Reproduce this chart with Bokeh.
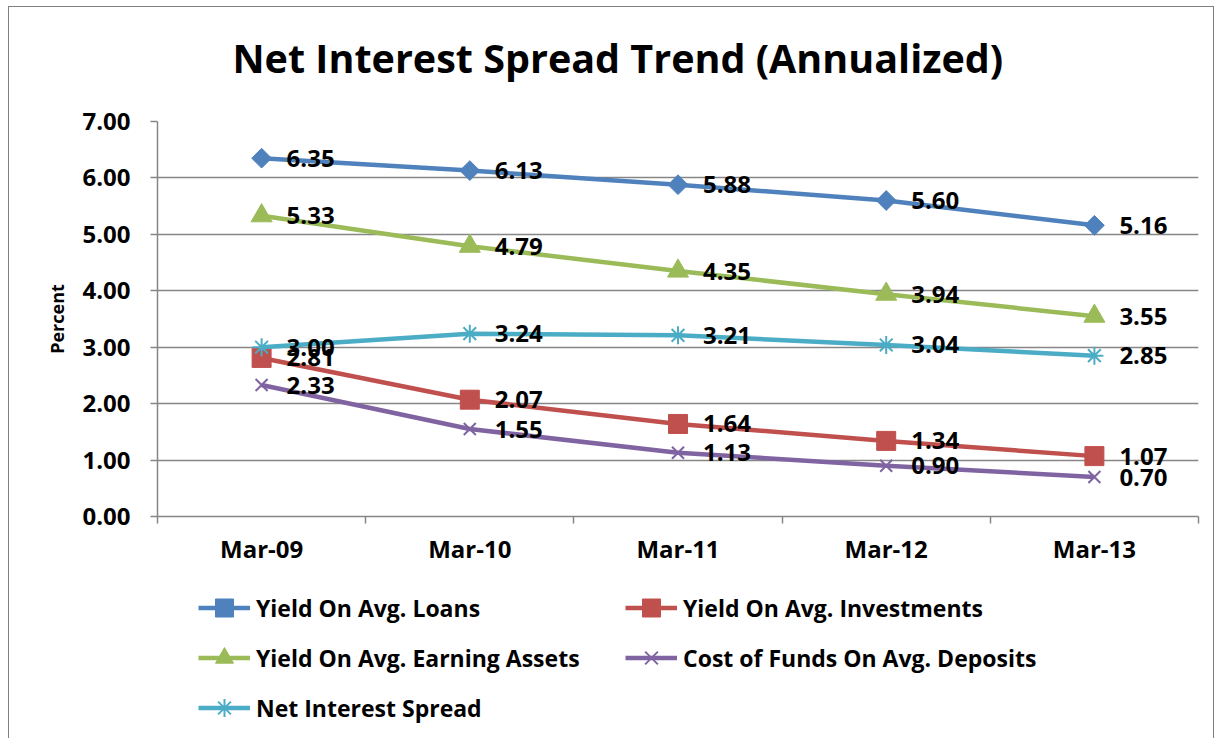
from math import pi
from bokeh.plotting import figure
from bokeh.layouts import column
from bokeh.models import (Range1d, FixedTicker, Legend, LegendItem, Title,
                          ColumnDataSource, NumeralTickFormatter)
from bokeh.embed import file_html
from bokeh.resources import INLINE
from bokeh.core.properties import value

categories = ["Mar-09", "Mar-10", "Mar-11", "Mar-12", "Mar-13"]
loans = [6.35, 6.13, 5.88, 5.60, 5.16]
investments = [2.81, 2.07, 1.64, 1.34, 1.07]
earning_assets = [5.33, 4.79, 4.35, 3.94, 3.55]
cost_of_funds = [2.33, 1.55, 1.13, 0.90, 0.70]
net_spread = [3.00, 3.24, 3.21, 3.04, 2.85]
y_ticks = [0, 1, 2, 3, 4, 5, 6, 7]

FONT = "Open Sans"
x_pos = [i + 0.5 for i in range(len(categories))]

p = figure(frame_width=1041, frame_height=395, x_range=Range1d(0, len(categories)),
           y_range=Range1d(0, 7), output_backend="svg", toolbar_location=None,
           min_border_left=148, min_border_right=15, min_border_top=114,
           min_border_bottom=60, outline_line_color=None)

p.title.text = "Net Interest Spread Trend (Annualized)"
p.title.text_font = FONT
p.title.text_font_style = "bold"
p.title.text_font_size = "39.5px"
p.title.text_color = "black"
p.title.align = "left"
p.title.offset = 75
p.title.standoff = 43
# spacer between title and plot area
p.add_layout(Title(text=" ", text_font_size="2px", standoff=11), "above")

# x axis
xax = p.xaxis[0]
xax.ticker = FixedTicker(ticks=x_pos, minor_ticks=list(range(len(categories) + 1)))
xax.major_label_overrides = {x: c for x, c in zip(x_pos, categories)}
xax.major_tick_line_color = None
xax.major_tick_out = 6
xax.major_tick_in = 0
xax.minor_tick_out = 7
xax.minor_tick_in = 0
xax.minor_tick_line_color = "#868686"
xax.minor_tick_line_width = 1.5
xax.axis_line_color = "#868686"
xax.axis_line_width = 1.5
xax.major_label_text_font = FONT
xax.major_label_text_font_style = "bold"
xax.major_label_text_font_size = "24px"
xax.major_label_text_color = "black"
xax.major_label_standoff = 8
p.xgrid.visible = False

# y axis
yax = p.yaxis[0]
yax.ticker = FixedTicker(ticks=y_ticks)
yax.formatter = NumeralTickFormatter(format="0.00")
yax.major_tick_out = 7
yax.major_tick_in = 0
yax.minor_tick_line_color = None
yax.major_tick_line_color = "#868686"
yax.major_tick_line_width = 1.5
yax.axis_line_color = "#868686"
yax.axis_line_width = 1.5
yax.major_label_text_font = FONT
yax.major_label_text_font_style = "bold"
yax.major_label_text_font_size = "24px"
yax.major_label_text_color = "black"
yax.major_label_standoff = 20
yax.axis_label = "Percent"
yax.axis_label_text_font = FONT
yax.axis_label_text_font_style = "bold"
yax.axis_label_text_font_size = "18px"
yax.axis_label_text_color = "black"
yax.axis_label_standoff = 10
p.ygrid.ticker = FixedTicker(ticks=y_ticks)
p.ygrid.grid_line_color = "#868686"
p.ygrid.grid_line_width = 1.5

series = [
    ("Yield On Avg. Loans", loans, "#4F81BD", "square", 14, pi / 4),
    ("Yield On Avg. Investments", investments, "#C0504D", "square", 19, 0),
    ("Yield On Avg. Earning Assets", earning_assets, "#9BBB59", "triangle", 21, 0),
    ("Cost of Funds On Avg. Deposits", cost_of_funds, "#8064A2", "x", 17, 0),
    ("Net Interest Spread", net_spread, "#4BACC6", "asterisk", 18, 0),
]

# legend figure (sits directly under the chart)
lg = figure(width=1204, height=162, x_range=Range1d(0, 1), y_range=Range1d(0, 1),
            output_backend="svg", toolbar_location=None, min_border=0,
            x_axis_location=None, y_axis_location=None, outline_line_color=None)
lg.grid.visible = False

items = {}
for name, vals, color, marker, size, angle in series:
    src = ColumnDataSource(dict(x=x_pos, y=vals, lab=[f"{v:.2f}" for v in vals]))
    lw = 2 if marker in ("x", "asterisk") else 1
    p.line("x", "y", source=src, line_color=color, line_width=4.5)
    p.scatter("x", "y", source=src, marker=marker, size=size, angle=angle,
              fill_color=color, line_color=color, line_width=lw)
    p.text("x", "y", text="lab", source=src, x_offset=25, text_align="left",
           text_baseline="middle", text_font=value(FONT), text_font_style="bold",
           text_font_size="24px", text_color="black")
    # off-screen proxies, only used to draw the legend swatches
    proxy = ColumnDataSource(dict(x=[-10, -9], y=[-10, -10]))
    ln = lg.line("x", "y", source=proxy, line_color=color, line_width=4.5)
    sc = lg.scatter("x", "y", source=proxy, marker=marker, size=size, angle=angle,
                    fill_color=color, line_color=color, line_width=lw)
    items[name] = LegendItem(label=name, renderers=[ln, sc])

order = ["Yield On Avg. Loans", "Yield On Avg. Investments",
         "Yield On Avg. Earning Assets", "Cost of Funds On Avg. Deposits",
         "Net Interest Spread"]
legend = Legend(items=[items[n] for n in order], orientation="horizontal", ncols=2,
                location=(41, 8), label_text_font=FONT, label_text_font_style="bold",
                label_text_font_size="23px", label_text_color="black",
                glyph_width=52, glyph_height=45, label_height=45, label_width=364,
                label_standoff=6, spacing=5, padding=0, margin=0,
                border_line_color=None, background_fill_alpha=0)
lg.add_layout(legend)

layout = column(p, lg, spacing=0,
                styles={"margin-left": "8px", "margin-top": "6px",
                        "border-left": "1px solid #808080",
                        "border-top": "1px solid #808080",
                        "border-right": "1px solid #808080"})

open("out.html", "w").write(file_html(layout, INLINE))
